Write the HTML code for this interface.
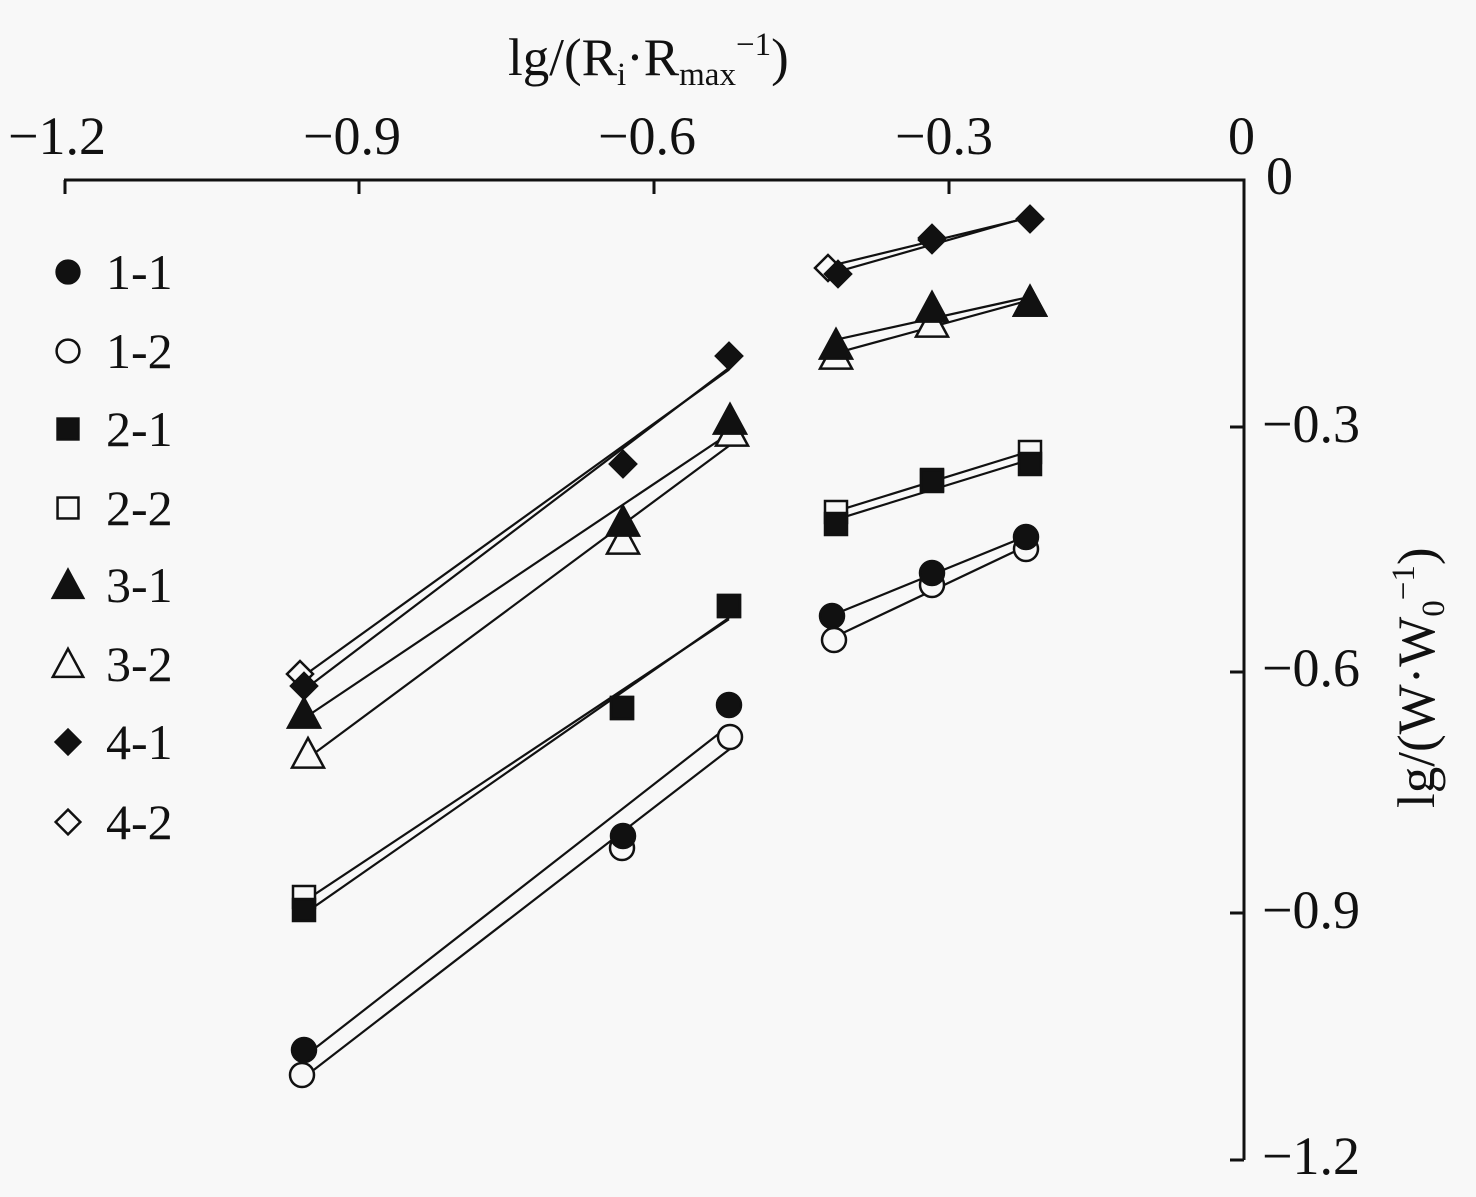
<!DOCTYPE html>
<html><head><meta charset="utf-8"><style>
html,body{margin:0;padding:0;background:#f8f8f8}
svg{display:block}
text{font-family:"Liberation Serif",serif;fill:#111}
</style></head><body>
<svg id="s" width="1476" height="1197" viewBox="0 0 1476 1197" xmlns="http://www.w3.org/2000/svg">
<rect width="1476" height="1197" fill="#f8f8f8"/>
<g stroke="#111" stroke-width="3" fill="none">
<path d="M64 180H1244V1160"/>
<path d="M65 180V194M359 180V194M654 180V194M949 180V194"/>
<path d="M1230 427H1244M1230 672H1244M1230 913H1244M1230 1160H1244"/>
</g>
<g font-size="54">
<text x="8" y="154">−1.2</text>
<text x="303" y="154">−0.9</text>
<text x="598" y="154">−0.6</text>
<text x="895" y="154">−0.3</text>
<text x="1228" y="154">0</text>
<text x="1266" y="194">0</text>
<text x="1262" y="442">−0.3</text>
<text x="1262" y="686">−0.6</text>
<text x="1262" y="928">−0.9</text>
<text x="1262" y="1174">−1.2</text>
<text x="508" y="75" font-size="53">lg/(R<tspan font-size="33" dy="10">i</tspan><tspan dy="-10">·R</tspan><tspan font-size="33" dy="10">max</tspan><tspan font-size="33" dy="-30">−1</tspan><tspan dy="20">)</tspan></text>
<text transform="translate(1434,808) rotate(-90)" font-size="53">lg/(W·W<tspan font-size="33" dy="10">0</tspan><tspan font-size="33" dy="-30">−1</tspan><tspan dy="20">)</tspan></text>
</g>
<g id="plot"></g>
<g id="leg" font-size="50"></g>
</svg>
<script>
var S=[
["c",1,[[304,1050],[623,836],[729,705],[832,616],[932,573],[1026,537]]],
["c",0,[[302,1075],[622,848],[730,737],[834,640],[932,585],[1026,549]]],
["s",1,[[304,910],[622,708],[729,606],[836,524],[932,481],[1030,464]]],
["s",0,[[304,897],[622,708],[729,606],[836,512],[932,480],[1030,452]]],
["t",1,[[304,714],[623,522],[730,420],[836,345],[932,308],[1030,302]]],
["t",0,[[308,754],[623,540],[732,432],[836,355],[932,323],[1030,302]]],
["d",1,[[304,686],[623,464],[729,356],[838,274],[932,240],[1030,219]]],
["d",0,[[300,674],[623,464],[729,356],[828,268],[932,238],[1030,219]]]
];
var NS="http://www.w3.org/2000/svg";
function el(p,t,a){var e=document.createElementNS(NS,t);for(var k in a)e.setAttribute(k,a[k]);p.appendChild(e);return e;}
function mk(p,type,fill,x,y,sc){
 var f=fill?"#111":"#f8f8f8",a={fill:f,stroke:"#111","stroke-width":2.5};
 if(type=="c"){a.cx=x;a.cy=y;a.r=12*sc;el(p,"circle",a);}
 else if(type=="s"){var h=11*sc;a.x=x-h;a.y=y-h;a.width=2*h;a.height=2*h;el(p,"rect",a);}
 else if(type=="t"){var h=16*sc;a.points=(x)+","+(y-h)+" "+(x+h)+","+(y+h*0.85)+" "+(x-h)+","+(y+h*0.85);el(p,"polygon",a);}
 else {var h=13*sc;a.points=x+","+(y-h)+" "+(x+h)+","+y+" "+x+","+(y+h)+" "+(x-h)+","+y;el(p,"polygon",a);}
}
function fit(pts){var n=pts.length,mx=0,my=0;pts.forEach(function(p){mx+=p[0];my+=p[1]});mx/=n;my/=n;var sxy=0,sxx=0;pts.forEach(function(p){sxy+=(p[0]-mx)*(p[1]-my);sxx+=(p[0]-mx)*(p[0]-mx)});var b=sxy/sxx;var x0=pts[0][0],x1=pts[n-1][0];return [x0,my+b*(x0-mx),x1,my+b*(x1-mx)];}
var P=document.getElementById("plot");
S.forEach(function(s){[s[2].slice(0,3),s[2].slice(3)].forEach(function(seg){var l=fit(seg);el(P,"line",{x1:l[0],y1:l[1],x2:l[2],y2:l[3],stroke:"#111","stroke-width":2.2});});});
S.forEach(function(s){if(!s[1])s[2].forEach(function(p){mk(P,s[0],s[1],p[0],p[1],1);});});
S.forEach(function(s){if(s[1])s[2].forEach(function(p){mk(P,s[0],s[1],p[0],p[1],1);});});
var L=document.getElementById("leg"),names=["1-1","1-2","2-1","2-2","3-1","3-2","4-1","4-2"],ys=[272,351,429,508,585,664,742,822];
S.forEach(function(s,i){mk(L,s[0],s[1],68,ys[i],0.95);var t=el(L,"text",{x:106,y:ys[i]+17});t.textContent=names[i];});
</script>
</body></html>
